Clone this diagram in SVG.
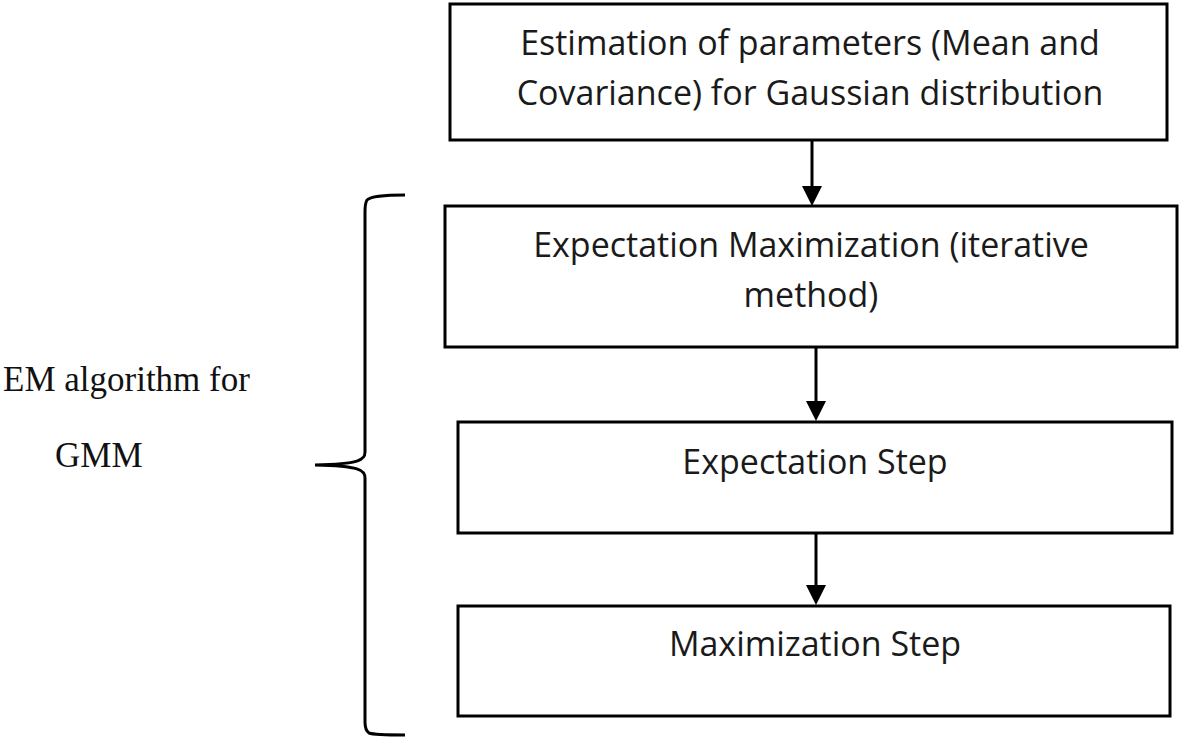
<svg xmlns="http://www.w3.org/2000/svg" width="1183" height="738" viewBox="0 0 1183 738">
<style>
.box{fill:#fff;stroke:#000;stroke-width:3}
.t{font-family:"Open Sans","Liberation Sans",sans-serif;font-size:34px;fill:#1a1a1a;text-anchor:middle}
.s{font-family:"Liberation Serif",serif;font-size:35px;fill:#111}
.c{stroke:#000;stroke-width:3;fill:none}
</style>
<defs>
<polygon id="head" points="-10,0 10,0 0,20"/>
</defs>
<rect width="1183" height="738" fill="#fff"/>
<g id="n1"><rect class="box" x="450" y="4" width="717" height="136"/>
<text class="t" x="810" y="55">Estimation of parameters (Mean and</text>
<text class="t" x="810" y="105">Covariance) for Gaussian distribution</text></g>
<g id="n2"><rect class="box" x="445" y="206" width="732" height="141"/>
<text class="t" x="811" y="257">Expectation Maximization (iterative</text>
<text class="t" x="811" y="307">method)</text></g>
<g id="n3"><rect class="box" x="458" y="422" width="714" height="111"/>
<text class="t" x="815" y="474">Expectation Step</text></g>
<g id="n4"><rect class="box" x="458" y="606" width="712" height="110"/>
<text class="t" x="815" y="656">Maximization Step</text></g>
<g id="connectors">
<line class="c" x1="812" y1="140" x2="812" y2="188"/>
<use href="#head" x="812" y="186"/>
<line class="c" x1="816" y1="347" x2="816" y2="402"/>
<use href="#head" x="816" y="401"/>
<line class="c" x1="816" y1="533" x2="816" y2="586"/>
<use href="#head" x="816" y="585"/>
</g>
<g id="brace">
<path class="c" stroke-width="2.5" d="M405,195 C385,195 371,196 367,200 C365,203 365,206 365,212 L365,452 C365,460 360,464 315,465 C360,466 365,470 365,478 L365,722 C365,728 366,731 369,733 C374,735 388,735 405,735"/>
</g>
<g id="label">
<text class="s" x="3" y="391">EM algorithm for</text>
<text class="s" x="55" y="467">GMM</text>
</g>
</svg>
